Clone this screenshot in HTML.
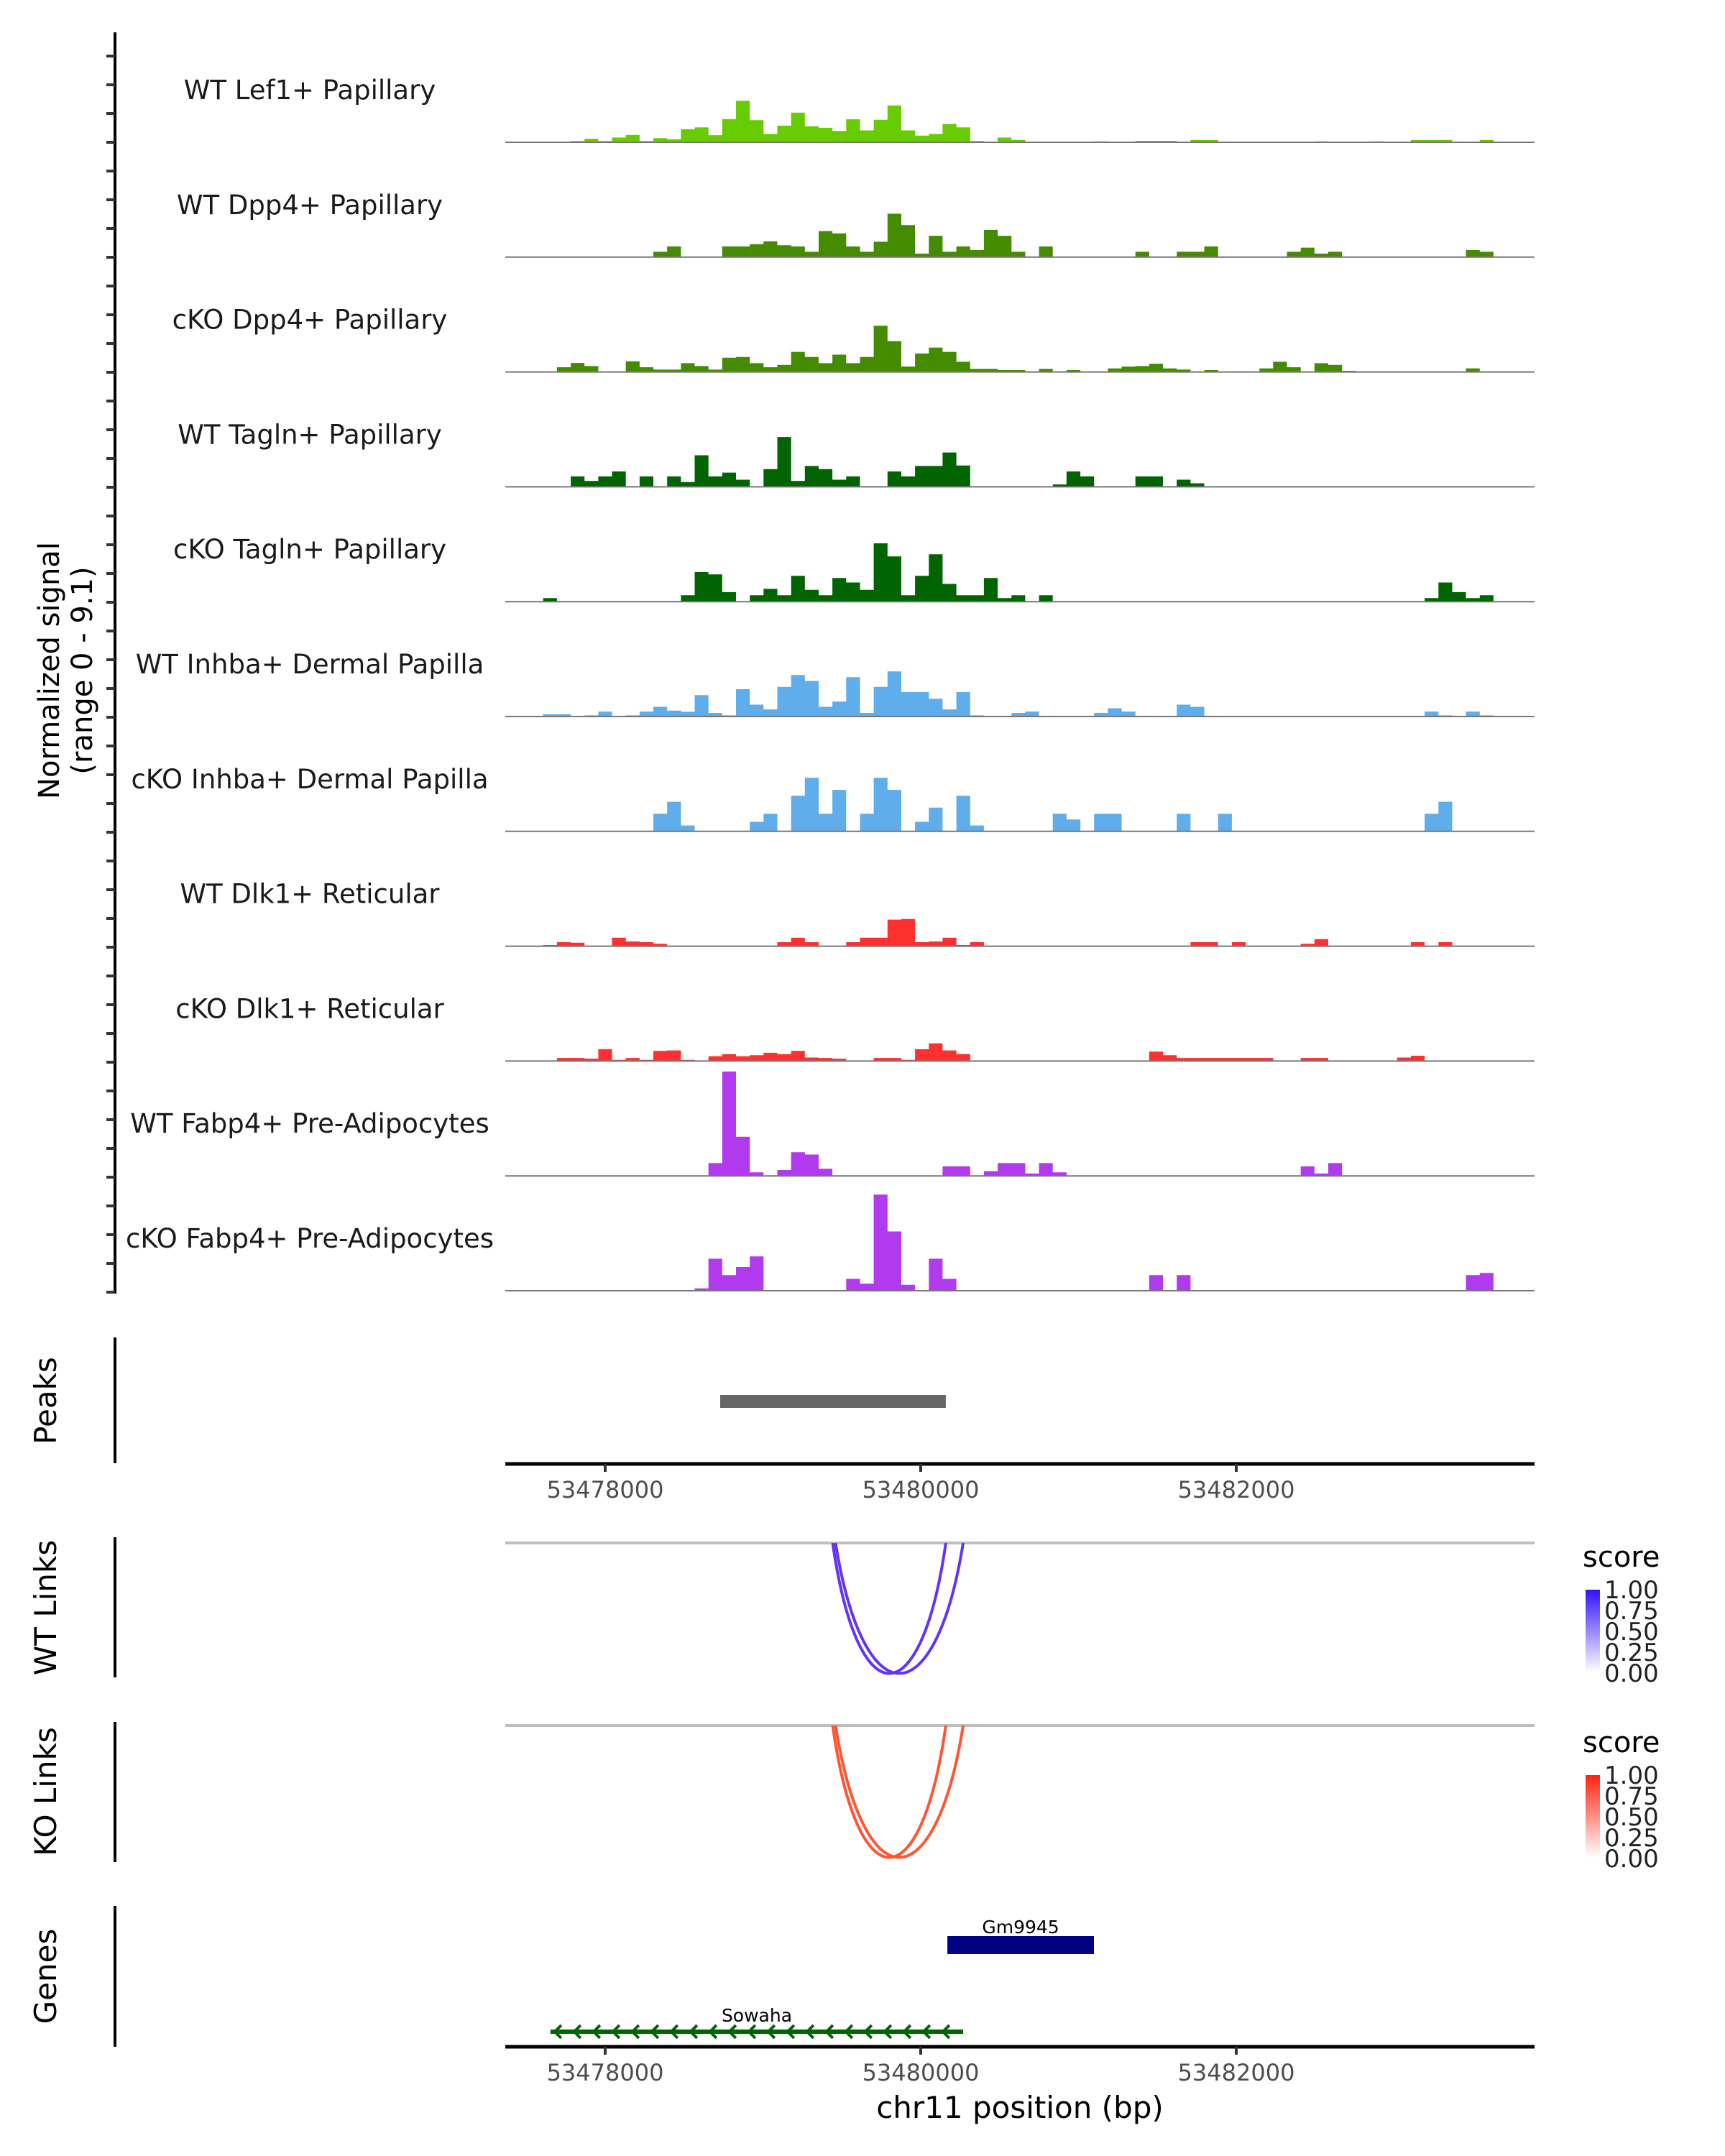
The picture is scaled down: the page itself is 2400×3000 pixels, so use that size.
<!DOCTYPE html>
<html><head><meta charset="utf-8">
<style>
html,body{margin:0;padding:0;background:#fff;}
svg{display:block;font-family:"DejaVu Sans","Liberation Sans",sans-serif;}
</style></head>
<body>
<svg id="chart" width="2400" height="3000" viewBox="0 0 2400 3000" xmlns="http://www.w3.org/2000/svg">
<rect width="2400" height="3000" fill="#fff"/>
<g id="tracks"></g>
<g id="axes"></g>
<text x="0" y="0" transform="translate(82,933) rotate(-90)" text-anchor="middle" font-size="40" fill="#000">Normalized signal</text>
<text x="0" y="0" transform="translate(128,933) rotate(-90)" text-anchor="middle" font-size="40" fill="#000">(range 0 - 9.1)</text>
<text x="0" y="0" transform="translate(78,1949) rotate(-90)" text-anchor="middle" font-size="42">Peaks</text>
<text x="0" y="0" transform="translate(78,2237) rotate(-90)" text-anchor="middle" font-size="42">WT Links</text>
<text x="0" y="0" transform="translate(78,2493) rotate(-90)" text-anchor="middle" font-size="42">KO Links</text>
<text x="0" y="0" transform="translate(78,2750) rotate(-90)" text-anchor="middle" font-size="42">Genes</text>
<text x="1419" y="2947" text-anchor="middle" font-size="42">chr11 position (bp)</text>
<defs>
<linearGradient id="gBlue" x1="0" y1="1" x2="0" y2="0"><stop offset="0" stop-color="#ffffff"/><stop offset="1" stop-color="#3311ff"/></linearGradient>
<linearGradient id="gRed" x1="0" y1="1" x2="0" y2="0"><stop offset="0" stop-color="#ffffff"/><stop offset="1" stop-color="#ff2211"/></linearGradient>
</defs>
<g>
<text x="2202" y="2180" font-size="40">score</text>
<rect x="2206" y="2212" width="20" height="115" fill="url(#gBlue)"/>
<g font-size="34" fill="#222">
<text x="2232" y="2224">1.00</text>
<text x="2232" y="2253">0.75</text>
<text x="2232" y="2282">0.50</text>
<text x="2232" y="2311">0.25</text>
<text x="2232" y="2340">0.00</text>
</g></g>
<g>
<text x="2202" y="2438" font-size="40">score</text>
<rect x="2206" y="2470" width="20" height="115" fill="url(#gRed)"/>
<g font-size="34" fill="#222">
<text x="2232" y="2482">1.00</text>
<text x="2232" y="2511">0.75</text>
<text x="2232" y="2540">0.50</text>
<text x="2232" y="2569">0.25</text>
<text x="2232" y="2598">0.00</text>
</g></g>
</svg>
<script>
// ---- data ----
const BIN_START = 53477607;
const BIN_SIZE = 87.3;
const trackNames = ["WT Lef1+ Papillary","WT Dpp4+ Papillary","cKO Dpp4+ Papillary","WT Tagln+ Papillary","cKO Tagln+ Papillary","WT Inhba+ Dermal Papilla","cKO Inhba+ Dermal Papilla","WT Dlk1+ Reticular","cKO Dlk1+ Reticular","WT Fabp4+ Pre-Adipocytes","cKO Fabp4+ Pre-Adipocytes"];
const trackColors = ["#66cc00","#458b00","#458b00","#006400","#006400","#5fadeb","#5fadeb","#ff3030","#ff3030","#b23aee","#b23aee"];
const lef1WT = [0,0,.1,.3,.1,.4,.62,.1,.35,.26, 1.1,1.26,.6,1.96,3.5,1.86,.7,1.4,2.5,1.36, 1.22,.95,1.94,1.0,1.9,3.1,1.0,.56,.7,1.55, 1.26,.1,0,.4,.2,0,0,0,0,0, .08,0,.05,.12,.12,.12,0,.2,.2,0, 0,0,0,0,0,0,.08,0,0,0, .08,0,0,.2,.2,.2,0,0,.2,0];
const dpp4WT = [0,0,0,0,0,0,0,0,.46,.9, 0,0,0,.9,.9,1.1,1.34,1.0,.9,.46, 2.2,2.0,.9,.46,1.3,3.66,2.7,.3,1.8,.46, .9,.6,2.3,1.8,.46,0,.9,0,0,0, 0,0,0,.46,0,0,.46,.46,.9,0, 0,0,0,0,.46,.8,.3,.46,0,0, 0,0,0,0,0,0,0,.6,.46,0];
const dpp4KO = [0,.4,.76,.5,0,0,.9,.4,.2,.2, .74,.5,.2,1.2,1.26,.74,.4,.6,1.7,1.26, .74,1.46,.74,1.26,3.9,2.6,.46,1.56,2.06,1.7, .86,.26,.26,.16,.16,0,.26,0,.16,0, 0,.3,.46,.5,.7,.3,.2,0,.16,0, 0,0,.3,.86,.4,0,.74,.6,.1,0, 0,0,0,0,0,0,0,.3,0,0];
const taglnWT = [0,0,.88,.5,.88,1.3,0,.88,0,.88, .4,2.66,.88,1.2,.6,0,1.5,4.2,.5,1.76, 1.5,.6,.88,0,0,1.3,.88,1.76,1.76,2.9, 1.8,0,0,0,0,0,0,.2,1.3,.88, 0,0,0,.88,.88,0,.6,.3,0,0, 0,0,0,0,0,0,0,0,0,0, 0,0,0,0,0,0,0,0,0,0];
const taglnKO = [.3,0,0,0,0,0,0,0,0,0, .54,2.5,2.3,.8,0,.54,1.08,.54,2.18,1.0, .54,2.0,1.62,1.0,4.92,3.82,.54,2.18,4.0,1.5, .54,.54,2.0,.3,.54,0,.54,0,0,0, 0,0,0,0,0,0,0,0,0,0, 0,0,0,0,0,0,0,0,0,0, 0,0,0,0,.3,1.62,.8,.3,.54,0];
const inhbaWT = [.2,.2,0,.1,.42,0,.1,.42,.82,.5, .4,1.8,.3,.1,2.3,1.0,.6,2.5,3.5,3.0, .82,1.26,3.32,.3,2.5,3.8,2.06,2.06,1.5,.6, 2.06,.1,0,0,.3,.42,0,0,0,0, .3,.7,.42,0,0,0,1.0,.82,0,0, 0,0,0,0,0,0,0,0,0,0, 0,0,0,0,.42,.1,0,.42,.1,0];
const inhbaKO = [0,0,0,0,0,0,0,0,1.48,2.5, .5,0,0,0,0,.8,1.48,0,3.0,4.52, 1.48,3.5,0,1.48,4.52,3.5,0,.8,2.0,0, 3.0,.5,0,0,0,0,0,1.48,1.0,0, 1.48,1.48,0,0,0,0,1.48,0,0,1.48, 0,0,0,0,0,0,0,0,0,0, 0,0,0,0,1.48,2.5,0,0,0,0];
const dlk1WT = [.1,.34,.3,0,0,.72,.4,.34,.2,0, 0,0,0,0,0,0,0,.34,.72,.34, 0,0,.34,.72,.72,2.24,2.3,.34,.4,.72, .1,.34,0,0,0,0,0,0,0,0, 0,0,0,0,0,0,0,.34,.34,0, .34,0,0,0,0,.2,.6,0,0,0, 0,0,0,.34,0,.34,0,0,0,0];
const dlk1KO = [0,.26,.26,.2,1.0,.1,.26,.1,.86,.9, .1,0,.4,.58,.4,.5,.7,.58,.86,.3, .26,.2,0,0,.26,.26,.1,1.0,1.5,.9, .58,0,0,0,0,0,0,0,0,0, 0,0,0,0,.8,.5,.26,.26,.26,.26, .26,.26,.26,0,0,.26,.26,0,0,0, 0,0,.3,.45,0,0,0,0,0,0];
const fabp4WT = [0,0,0,0,0,0,0,0,0,0, 0,0,1.08,8.8,3.3,.3,0,.5,2.0,1.8, .6,0,0,0,0,0,0,0,0,.8, .8,0,.4,1.08,1.08,.2,1.08,.3,0,0, 0,0,0,0,0,0,0,0,0,0, 0,0,0,0,0,.8,.2,1.08,0,0, 0,0,0,0,0,0,0,0,0,0];
const fabp4KO = [0,0,0,0,0,0,0,0,0,0, 0,.2,2.7,1.32,2.0,2.9,0,0,0,0, 0,0,1.0,.6,8.1,5.0,.5,0,2.7,1.0, 0,0,0,0,0,0,0,0,0,0, 0,0,0,0,1.32,0,1.32,0,0,0, 0,0,0,0,0,0,0,0,0,0, 0,0,0,0,0,0,0,1.32,1.5,0];
const trackValues = [lef1WT,dpp4WT,dpp4KO,taglnWT,taglnKO,inhbaWT,inhbaKO,dlk1WT,dlk1KO,fabp4WT,fabp4KO];
const xTicks = [53478000,53480000,53482000];
const xTickLabels = ["53478000","53480000","53482000"];
const peakStarts = [53478729];
const peakEnds = [53480159];
const wtLinkStarts = [53479442,53479460];
const wtLinkEnds = [53480159,53480269];
const wtLinkScores = [0.8,0.8];
const koLinkStarts = [53479442,53479460];
const koLinkEnds = [53480159,53480269];
const koLinkScores = [0.8,0.8];
const geneNames = ["Gm9945","Sowaha"];
const geneStarts = [53480169,53477653];
const geneEnds = [53481098,53480269];
const geneStrands = ["+","-"];

// ---- scales ----
const NS = "http://www.w3.org/2000/svg";
const PLOT_L = 703, PLOT_R = 2135;
function xScale(bp){ return 842 + (bp - 53478000) * 0.2195; }
const TRACK0 = 198, TRACK_STEP = 159.8, PX_PER_UNIT = 16.5;
function yScale(v, base){ return base - v * PX_PER_UNIT; }
function mk(tag, attrs, parent){
  const el = document.createElementNS(NS, tag);
  for (const k in attrs) el.setAttribute(k, attrs[k]);
  parent.appendChild(el);
  return el;
}
const tracksG = document.getElementById('tracks');
const axesG = document.getElementById('axes');

trackNames.forEach((name, t) => {
  const base = TRACK0 + t * TRACK_STEP;
  const g = mk('g', {}, tracksG);
  
  
  const lbl = mk('text', {x: 431, y: base - 60, 'text-anchor': 'middle', 'font-size': 37, fill: '#1a1a1a'}, g);
  lbl.textContent = name;
  
  
  const vals = trackValues[t];
  let d = '';
  let open = false;
  vals.forEach((v, i) => {
    const x0 = Math.max(PLOT_L, xScale(BIN_START + i * BIN_SIZE));
    const x1 = Math.min(PLOT_R, xScale(BIN_START + (i + 1) * BIN_SIZE));
    const y = yScale(v, base);
    if (v > 0) {
      if (!open) { d += 'M' + x0.toFixed(1) + ',' + base + ' '; open = true; }
      d += 'L' + x0.toFixed(1) + ',' + y.toFixed(1) + ' L' + x1.toFixed(1) + ',' + y.toFixed(1) + ' ';
    } else if (open) {
      d += 'L' + x0.toFixed(1) + ',' + base + ' Z '; open = false;
    }
  });
  if (open) { d += 'L' + xScale(BIN_START + vals.length * BIN_SIZE).toFixed(1) + ',' + base + ' Z'; }
  const area = mk('path', {d: d, fill: trackColors[t]}, g);
  
  
  const bl = mk('line', {x1: PLOT_L, x2: PLOT_R, y1: base, y2: base, stroke: '#777', 'stroke-width': 2}, g);
  
  
});

// left y axis with ticks
const yax = mk('line', {x1: 160, x2: 160, y1: 45, y2: 1800, stroke: '#000', 'stroke-width': 4}, axesG);


for (let y = 78; y <= 1800; y += 40) {
  const tk = mk('line', {x1: 148, x2: 160, y1: y, y2: y, stroke: '#333', 'stroke-width': 4}, axesG);
  
  
}
[[1861, 2036], [2139, 2334], [2396, 2591], [2652, 2848]].forEach(r => {
  const l = mk('line', {x1: 160, x2: 160, y1: r[0], y2: r[1], stroke: '#000', 'stroke-width': 4}, axesG);
  
  
});

// peaks
peakStarts.forEach((s, i) => {
  const r = mk('rect', {x: xScale(s), y: 1941, width: xScale(peakEnds[i]) - xScale(s), height: 18, fill: '#666'}, axesG);
  
  
});

// x axes
[2037, 2848].forEach((ay, k) => {
  const l = mk('line', {x1: PLOT_L, x2: PLOT_R, y1: ay, y2: ay, stroke: '#000', 'stroke-width': 5}, axesG);
  
  
  xTicks.forEach((bp, i) => {
    const x = xScale(bp);
    const tk = mk('line', {x1: x, x2: x, y1: ay, y2: ay + 11, stroke: '#333', 'stroke-width': 4}, axesG);
    
    
    const t = mk('text', {x: x, y: ay + 47, 'text-anchor': 'middle', 'font-size': 32, fill: '#4d4d4d'}, axesG);
    t.textContent = xTickLabels[i];
    
    
  });
});

// links
function drawLinks(starts, ends, scores, topY, botY, color, nm) {
  const gl = mk('line', {x1: PLOT_L, x2: PLOT_R, y1: topY, y2: topY, stroke: '#bebebe', 'stroke-width': 4}, axesG);
  
  
  starts.forEach((s, i) => {
    const x0 = xScale(s), x1 = xScale(ends[i]);
    const depth = (botY - topY) * scores[i] / 0.8;
    const p = mk('path', {d: 'M' + x0 + ',' + topY + ' C' + (x0 + (x1 - x0) * 0.22) + ',' + (topY + depth * 1.33) + ' ' + (x1 - (x1 - x0) * 0.22) + ',' + (topY + depth * 1.33) + ' ' + x1 + ',' + topY, fill: 'none', stroke: color, 'stroke-width': 4}, axesG);
    
    
  });
}
drawLinks(wtLinkStarts, wtLinkEnds, wtLinkScores, 2147, 2329, '#6233f8', 'wt-link');
drawLinks(koLinkStarts, koLinkEnds, koLinkScores, 2401, 2585, '#ff5533', 'ko-link');

// genes
geneNames.forEach((name, i) => {
  const x0 = xScale(geneStarts[i]), x1 = xScale(geneEnds[i]);
  if (geneStrands[i] === '+') {
    const r = mk('rect', {x: x0, y: 2694, width: x1 - x0, height: 25, fill: '#000080'}, axesG);
    
    
    const t = mk('text', {x: (x0 + x1) / 2, y: 2690, 'text-anchor': 'middle', 'font-size': 25}, axesG);
    t.textContent = name;
    
    
  } else {
    const y = 2827;
    const l = mk('line', {x1: x0, x2: x1, y1: y, y2: y, stroke: '#006400', 'stroke-width': 6}, axesG);
    
    
    let d = '';
    for (let cx = x0 + 6; cx < x1 - 10; cx += 27) d += 'M' + (cx + 9) + ',' + (y - 9) + ' L' + cx + ',' + y + ' L' + (cx + 9) + ',' + (y + 9) + ' ';
    const ch = mk('path', {d: d, fill: 'none', stroke: '#006400', 'stroke-width': 4}, axesG);
    
    
    const t = mk('text', {x: 1053, y: 2813, 'text-anchor': 'middle', 'font-size': 25}, axesG);
    t.textContent = name;
    
    
  }
});
</script>
</body></html>
